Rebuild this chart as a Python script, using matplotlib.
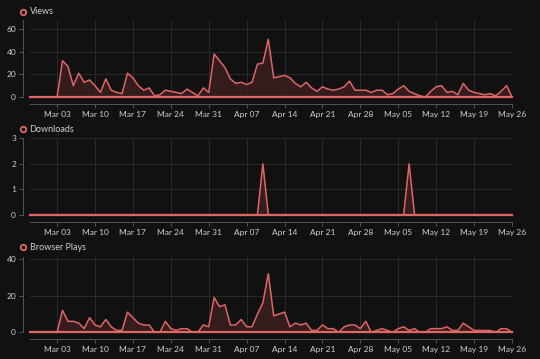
import numpy as np
import pandas as pd
import matplotlib
matplotlib.use("Agg")
import matplotlib.pyplot as plt
import matplotlib.dates as mdates

# daily values, Feb 27 .. May 26 (2024)
dates = pd.date_range("2024-02-27", "2024-05-26", freq="D")

views = [0, 0, 0, 0, 0,
         0, 32, 27, 10, 21, 13, 15,            # Mar 03 - Mar 09
         10, 4, 16, 6, 4, 3, 21,               # Mar 10 - Mar 16
         17, 10, 6, 8, 1, 2, 6,                # Mar 17 - Mar 23
         5, 4, 3, 7, 4, 1, 8,                  # Mar 24 - Mar 30
         4, 38, 32, 26, 16, 12, 13,            # Mar 31 - Apr 06
         11, 13, 29, 30, 51, 17, 18,           # Apr 07 - Apr 13
         19, 17, 12, 9, 13, 8, 5,              # Apr 14 - Apr 20
         9, 7, 6, 7, 9, 14, 6,                 # Apr 21 - Apr 27
         6, 6, 4, 6, 6, 2, 3,                  # Apr 28 - May 04
         7, 10, 5, 3, 1, 0, 5,                 # May 05 - May 11
         9, 10, 4, 5, 2, 12, 6,                # May 12 - May 18
         4, 3, 2, 3, 1, 5, 10,                 # May 19 - May 25
         0]                                    # May 26

downloads = [0] * len(dates)
downloads[list(dates).index(pd.Timestamp("2024-04-10"))] = 2
downloads[list(dates).index(pd.Timestamp("2024-05-07"))] = 2

browser_plays = [0, 0, 0, 0, 0,
                 0, 12, 6, 6, 5, 2, 8,         # Mar 03 - Mar 09
                 4, 3, 7, 3, 1, 1, 11,         # Mar 10 - Mar 16
                 8, 5, 4, 4, 0, 0, 6,          # Mar 17 - Mar 23
                 2, 1, 2, 2, 0, 0, 4,          # Mar 24 - Mar 30
                 3, 19, 14, 15, 4, 4, 7,       # Mar 31 - Apr 06
                 3, 3, 10, 16, 32, 9, 10,      # Apr 07 - Apr 13
                 11, 3, 5, 4, 5, 1, 1,         # Apr 14 - Apr 20
                 4, 2, 2, 0, 3, 4, 4,          # Apr 21 - Apr 27
                 2, 6, 0, 1, 2, 1, 0,          # Apr 28 - May 04
                 2, 3, 1, 2, 0, 0, 2,          # May 05 - May 11
                 2, 2, 3, 1, 1, 5, 3,          # May 12 - May 18
                 1, 1, 1, 1, 0, 2, 2,          # May 19 - May 25
                 0]                            # May 26

panels = [("Views", views, [0, 20, 40, 60], 68),
          ("Downloads", downloads, [0, 1, 2, 3], 3),
          ("Browser Plays", browser_plays, [0, 20, 40], 41)]

BG = "#111111"
LINE = "#e06666"
FILL = "#3a1e1f"
GRID = "#2a2a2a"
TEXT = "#cfcfcf"

plt.rcParams["font.family"] = ["Lato", "DejaVu Sans"]

W, H = 540, 359
fig = plt.figure(figsize=(W / 100, H / 100), dpi=100, facecolor=BG)

# (top, bottom) of each plot area in pixels
boxes = [(20, 97), (138.3, 214.7), (257.3, 332.3)]
title_y = [12, 129.3, 247]
left, right = 30, 512

ticks = pd.date_range("2024-03-03", "2024-05-26", freq="7D")

for (name, vals, yt, ytop), (top, bot), ty in zip(panels, boxes, title_y):
    ax = fig.add_axes([left / W, 1 - bot / H, (right - left) / W, (bot - top) / H])
    ax.set_facecolor(BG)
    ax.fill_between(dates, vals, 0, color=FILL, alpha=0.9, lw=0)
    ax.plot(dates, vals, color=LINE, lw=1.1, clip_on=False, zorder=3)
    ax.axhline(0, color=LINE, lw=1.6, clip_on=False, zorder=3)
    ax.set_xlim(dates[0], dates[-1])
    ax.set_ylim(0, ytop)
    ax.set_yticks(yt)
    ax.set_xticks(ticks)
    ax.xaxis.set_major_formatter(mdates.DateFormatter("%b %d"))
    ax.grid(True, color=GRID, lw=0.7)
    ax.set_axisbelow(True)
    for s in ["top", "right"]:
        ax.spines[s].set_visible(False)
    for s in ["left", "bottom"]:
        ax.spines[s].set_position(("outward", 5))
        ax.spines[s].set_color("#555555")
        ax.spines[s].set_linewidth(0.7)
    ax.tick_params(colors="#555555", labelcolor=TEXT, labelsize=6, length=3, width=0.7, pad=2)

    # legend-like title: hollow circle + name
    fig.lines.append(plt.Line2D([23.3 / W], [1 - ty / H], marker="o", ms=4, mfc="none",
                                mec=LINE, mew=1.3, transform=fig.transFigure))
    fig.text(29.5 / W, 1 - ty / H, name, ha="left", va="center", color=TEXT, fontsize=6.5)

fig.savefig("out.png", dpi=100, facecolor=BG)
